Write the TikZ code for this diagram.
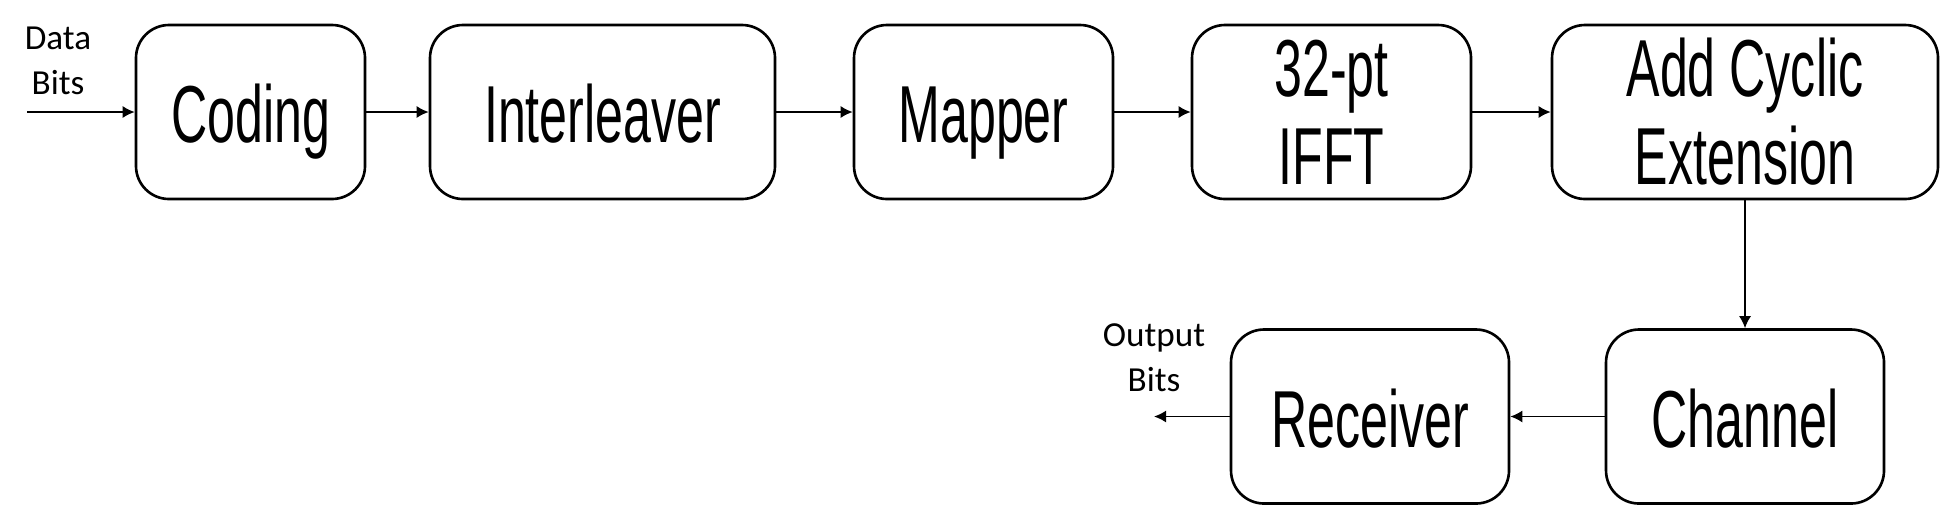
\documentclass[tikz,border=0pt]{standalone}
\usepackage{fontspec}
\usepackage{tikz}
\usetikzlibrary{arrows.meta, positioning}
\newfontfamily\blockfont[FakeStretch=0.62]{Liberation Sans}
\newfontfamily\labelfont{Carlito}
\tikzset{
    block/.style={draw, rounded corners=0.33cm, line width=0.75pt, minimum height=1.74cm, align=center, inner sep=0pt, font=\blockfont\fontsize{23}{25}\selectfont},
    oneline/.style={block, text height=17.6pt, text depth=0pt},
    flow/.style={-{Latex[length=1.2mm, width=1.2mm]}, line width=0.45pt},
    iolabel/.style={align=center, inner sep=0pt, font=\labelfont\fontsize{10}{12.8}\selectfont}
}

\begin{document}
\begin{tikzpicture}
    \useasboundingbox (0, 0) rectangle (19.41, -5.07);
    \node[oneline, minimum width=2.29cm] (coding) at (2.505, -1.12) {Coding};
    \node[oneline, minimum width=3.45cm] (interleaver) at (6.025, -1.12) {Interleaver};
    \node[oneline, minimum width=2.59cm] (mapper) at (9.835, -1.12) {Mapper};
    \node[block, minimum width=2.79cm] (ifft) at (13.315, -1.12) {32-pt\\IFFT};
    \node[block, minimum width=3.86cm] (cyclic) at (17.45, -1.12) {Add Cyclic\\Extension};
    \node[oneline, minimum width=2.78cm] (channel) at (17.45, -4.165) {Channel};
    \node[oneline, minimum width=2.78cm] (receiver) at (13.70, -4.165) {Receiver};

    \node[iolabel] (databits) at (0.58, -0.61) {Data\\Bits};
    \node[iolabel] (outbits) at (11.54, -3.58) {Output\\Bits};
    \coordinate (input) at (0.27, -1.12);
    \coordinate (output) at (11.54, -4.165);

    \draw[flow] (input) -- (coding);
    \draw[flow] (coding) -- (interleaver);
    \draw[flow] (interleaver) -- (mapper);
    \draw[flow] (mapper) -- (ifft);
    \draw[flow] (ifft) -- (cyclic);
    \draw[flow] (cyclic) -- (channel);
    \draw[flow] (channel) -- (receiver);
    \draw[flow] (receiver) -- (output);
\end{tikzpicture}
\end{document}
